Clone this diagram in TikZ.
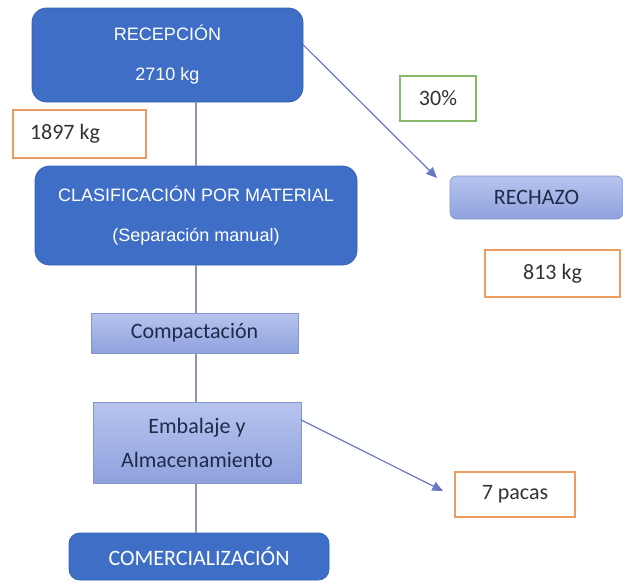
\documentclass[tikz,border=0pt]{standalone}
\usepackage{fontspec}
\setmainfont{Carlito}
\newfontfamily\arialf{Liberation Sans}
\usetikzlibrary{arrows.meta,calc}

\definecolor{darkbox}{HTML}{3F6EC6}
\definecolor{darkedge}{HTML}{3561B3}
\definecolor{lighttop}{HTML}{B7C4EE}
\definecolor{lightbot}{HTML}{8FA2DE}
\definecolor{lightedge}{HTML}{8595CC}
\definecolor{navytext}{HTML}{1E2B4A}
\definecolor{orangeedge}{HTML}{EE9B5F}
\definecolor{greenedge}{HTML}{86B96A}
\definecolor{flowline}{HTML}{8A94B4}
\definecolor{arrowline}{HTML}{6677C4}

\tikzset{
  box/.style={inner sep=0pt, outer sep=0pt, align=center},
  darkstep/.style={box, fill=darkbox, draw=darkedge, line width=0.6pt,
    rounded corners=11pt, text=white,
    font=\arialf\fontsize{13.5}{30}\selectfont},
  lightstep/.style={box, top color=lighttop, bottom color=lightbot,
    draw=lightedge, line width=0.5pt, text=navytext,
    font=\fontsize{16.5}{25.5}\selectfont},
  tagbox/.style={box, fill=white, draw=orangeedge, line width=1.5pt,
    text=black!80, font=\fontsize{16.5}{20}\selectfont},
  flow/.style={draw=flowline, line width=1.1pt},
  outflow/.style={draw=arrowline, line width=0.9pt,
    -{Triangle[length=8pt,width=7pt]}},
}

\begin{document}
\begin{tikzpicture}[x=0.75pt,y=-0.75pt]
  \useasboundingbox (0,0) rectangle (623,582);

  % main process column
  \node[darkstep, minimum width=203.25pt, minimum height=70.5pt]
    (rec) at (167.5,55) {RECEPCIÓN\\2710 kg};
  \node[tagbox, minimum width=99.75pt, minimum height=36pt]
    (t1897) at (79.5,134) {\makebox[74.25pt][l]{1897 kg}};
  \node[darkstep, minimum width=241.5pt, minimum height=74.25pt]
    (clas) at (196,215.5) {CLASIFICACIÓN POR MATERIAL\\(Separación manual)};
  \node[lightstep, minimum width=155.25pt, minimum height=30pt]
    (comp) at (194.5,333) {Compactación};
  \node[lightstep, minimum width=156pt, minimum height=60.75pt]
    (emb) at (197,442.5) {Embalaje y\\Almacenamiento};
  \node[darkstep, rounded corners=8pt, minimum width=195pt, minimum height=35.25pt,
    font=\fontsize{16.5}{20}\selectfont]
    (com) at (199,556.5) {COMERCIALIZACIÓN};

  % reject branch
  \node[box, fill=white, draw=greenedge, line width=1.1pt, minimum width=57pt,
    minimum height=33.75pt, text=black!80, font=\fontsize{16.5}{20}\selectfont]
    (pct) at (438,98.5) {30\%};
  \node[lightstep, rounded corners=5pt, minimum width=129.75pt, minimum height=32.25pt]
    (rech) at (536.5,197.5) {RECHAZO};
  \node[tagbox, minimum width=101.25pt, minimum height=35.25pt]
    (t813) at (552.5,273.5) {813 kg};
  \node[tagbox, minimum width=90pt, minimum height=33.75pt]
    (pacas) at (515,494.5) {7 pacas};

  % vertical spine of the process
  \coordinate (spine) at (196,0);
  \draw[flow] (rec.south -| spine) -- (clas.north -| spine);
  \draw[flow] (clas.south -| spine) -- (comp.north -| spine);
  \draw[flow] (comp.south -| spine) -- (emb.north -| spine);
  \draw[flow] (emb.south -| spine) -- (com.north -| spine);

  % branch arrows
  \coordinate (recOut) at ($(rec.north east)!0.39!(rec.south east)$);
  \coordinate (rechIn) at (437,178);
  \draw[outflow] (recOut) -- (rechIn);
  \coordinate (embOut) at ($(emb.north east)!0.22!(emb.south east)$);
  \coordinate (pacasIn) at (443,491);
  \draw[outflow] (embOut) -- (pacasIn);
\end{tikzpicture}
\end{document}
